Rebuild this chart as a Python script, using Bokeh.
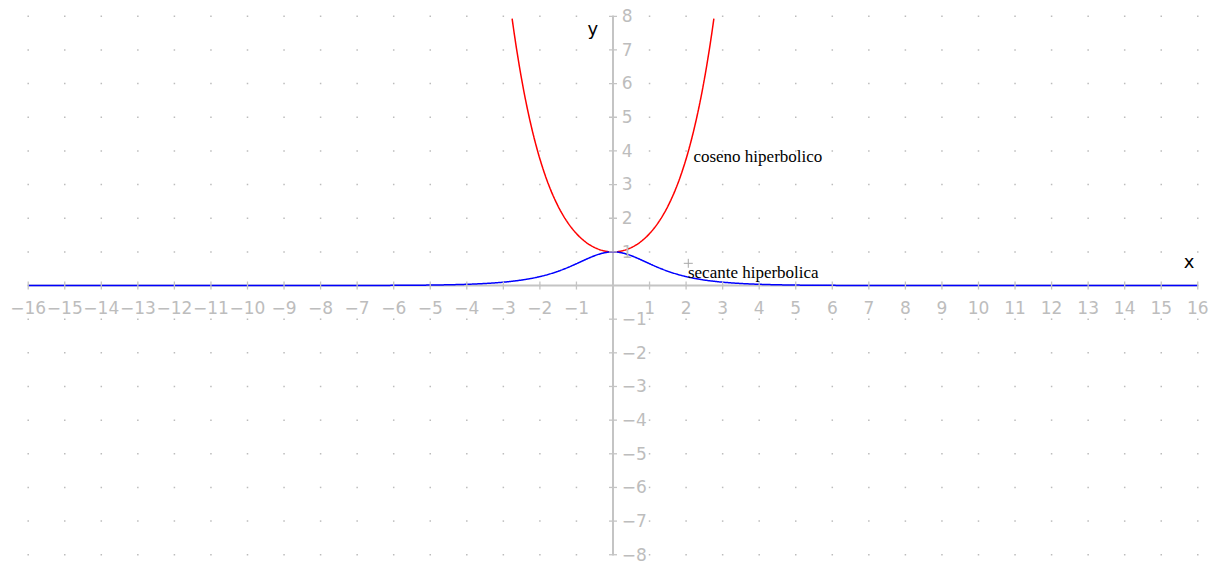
import numpy as np
from bokeh.plotting import figure
from bokeh.models import Range1d
from bokeh.core.properties import value
from bokeh.embed import file_html
from bokeh.resources import INLINE

# Axis ticks and their labels
x_ticks = list(range(-16, 17))
y_ticks = list(range(-8, 9))
x_tick_labels = [("\u2212" + str(-t)) if t < 0 else str(t) for t in x_ticks]
y_tick_labels = [("\u2212" + str(-t)) if t < 0 else str(t) for t in y_ticks]

# Plotted functions
x_values = np.linspace(-16, 16, 1601)
cosh_values = np.cosh(x_values)
sech_values = 1.0 / np.cosh(x_values)

curve_names = ["coseno hiperbolico", "secante hiperbolica"]
curve_label_x = [2.2, 2.05]
curve_label_y = [3.82, 0.38]

AXIS_GRAY = "#c4c4c4"
LABEL_GRAY = "#bdbdbd"

p = figure(
    width=1219, height=564,
    x_range=Range1d(-16.758, 16.594),
    y_range=Range1d(-8.29, 8.47),
    x_axis_type=None, y_axis_type=None,
    toolbar_location=None, output_backend="svg",
    min_border=0, outline_line_color=None,
    background_fill_color="white", border_fill_color="white",
)

# Dotted grid at integer points
gx, gy = np.meshgrid(x_ticks, y_ticks)
p.scatter(gx.ravel(), gy.ravel(), marker="square", size=1.5,
          fill_color="#bcbcbc", line_color=None)

# Axes lines
p.segment(x0=[x_ticks[0]], y0=[0], x1=[x_ticks[-1]], y1=[0],
          line_color=AXIS_GRAY, line_width=2)
p.segment(x0=[0], y0=[y_ticks[0]], x1=[0], y1=[y_ticks[-1]],
          line_color=AXIS_GRAY, line_width=2)

# Curves (cosh clipped to the visible y range)
mask = cosh_values <= y_ticks[-1]
p.line(x_values[mask], cosh_values[mask], line_color="#ff0000", line_width=1.5)
p.line(x_values, sech_values, line_color="#0000ff", line_width=1.5)

# Tick marks
tx = [t for t in x_ticks if t != 0]
ty = [t for t in y_ticks if t != 0]
hx = 4 / 36.55
hy = 4 / 33.65
p.segment(x0=tx, y0=[-hy] * len(tx), x1=tx, y1=[hy] * len(tx),
          line_color=AXIS_GRAY, line_width=1.3)
p.segment(x0=[-hx] * len(ty), y0=ty, x1=[hx] * len(ty), y1=ty,
          line_color=AXIS_GRAY, line_width=1.3)

# Tick labels
xl = [(t, s) for t, s in zip(x_ticks, x_tick_labels) if t != 0]
p.text(x=[t for t, _ in xl], y=[-0.65] * len(xl), text=[s for _, s in xl],
       text_font=value("DejaVu Sans"), text_font_size="17px",
       text_color=LABEL_GRAY, text_align="center", text_baseline="alphabetic")
yl = [(t, s) for t, s in zip(y_ticks, y_tick_labels) if t != 0]
p.text(x=[0.24] * len(yl), y=[t + 0.02 for t, _ in yl], text=[s for _, s in yl],
       text_font=value("DejaVu Sans"), text_font_size="17px",
       text_color=LABEL_GRAY, text_align="left", text_baseline="alphabetic")

# Axis names
p.text(x=[15.76], y=[0.72], text=["x"], text_font=value("DejaVu Sans"),
       text_font_size="18px", text_color="black", text_align="center",
       text_baseline="alphabetic")
p.text(x=[-0.55], y=[7.65], text=["y"], text_font=value("DejaVu Sans"),
       text_font_size="18px", text_color="black", text_align="center",
       text_baseline="alphabetic")

# Small anchor cross
p.scatter([2.06], [0.66], marker="cross", size=9, line_color="#a8a8a8",
          line_width=1)

# Curve names
p.text(x=curve_label_x, y=curve_label_y, text=curve_names,
       text_font=value("Liberation Serif"), text_font_size="17px",
       text_color="black", text_align="left", text_baseline="alphabetic")

open("out.html", "w").write(file_html(p, INLINE))
